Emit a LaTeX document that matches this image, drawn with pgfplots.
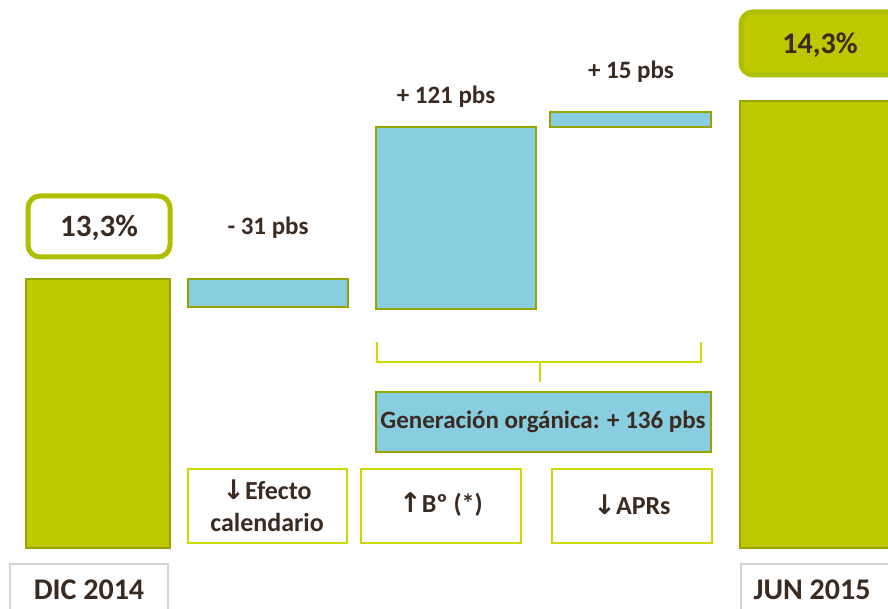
\documentclass[border=0pt]{standalone}
\usepackage{fontspec}
\setmainfont{Carlito}
\newfontfamily\symfont{DejaVu Sans}
\usepackage{pgfplots}
\pgfplotsset{compat=1.18}
\definecolor{grn}{RGB}{189,200,0}
\definecolor{grnd}{RGB}{152,164,0}
\definecolor{boxb}{RGB}{176,190,0}
\definecolor{blu}{RGB}{137,205,224}
\definecolor{brk}{RGB}{204,218,0}
\definecolor{gry}{RGB}{212,212,212}
\definecolor{txt}{RGB}{59,42,32}
\newcommand{\fs}[1]{\bfseries\fontsize{#1}{#1}\selectfont}
\newcommand{\arr}[1]{{\symfont\bfseries\fontsize{27}{27}\selectfont #1}}
\begin{document}
\begin{tikzpicture}
\begin{axis}[scale only axis, width=888pt, height=609pt,
  xmin=0, xmax=888, ymin=0, ymax=609, hide axis, clip=true]
% bars of the waterfall (plotted positions)
\addplot[fill=grn, draw=grnd, line width=2pt] coordinates {(26,61) (170,61) (170,330) (26,330)} -- cycle;
\addplot[fill=blu, draw=grnd, line width=2pt] coordinates {(188,302) (348,302) (348,330) (188,330)} -- cycle;
\addplot[fill=blu, draw=grnd, line width=2pt] coordinates {(376,300) (536,300) (536,482) (376,482)} -- cycle;
\addplot[fill=blu, draw=grnd, line width=2pt] coordinates {(550,482) (711,482) (711,497) (550,497)} -- cycle;
\addplot[fill=grn, draw=grnd, line width=2pt] coordinates {(740,61) (900,61) (900,508) (740,508)} -- cycle;
% value boxes
\addplot[fill=white, draw=boxb, line width=5pt, rounded corners=12pt] coordinates {(28,352) (170,352) (170,413) (28,413)} -- cycle;
\addplot[fill=grn, draw=boxb, line width=5pt, rounded corners=12pt] coordinates {(741,534) (960,534) (960,597) (741,597)} -- cycle;
% bracket
\addplot[draw=brk, line width=2.5pt] coordinates {(377,267) (377,247) (701,247) (701,267)};
\addplot[draw=brk, line width=2.5pt] coordinates {(540,247) (540,227)};
% organic generation box
\addplot[fill=blu, draw=grnd, line width=2pt] coordinates {(376,157) (711,157) (711,217) (376,217)} -- cycle;
% label boxes
\addplot[fill=white, draw=brk, line width=2pt] coordinates {(188,66) (347,66) (347,140) (188,140)} -- cycle;
\addplot[fill=white, draw=brk, line width=2pt] coordinates {(361,66) (521,66) (521,140) (361,140)} -- cycle;
\addplot[fill=white, draw=brk, line width=2pt] coordinates {(552,66) (712,66) (712,140) (552,140)} -- cycle;
% category boxes
\addplot[fill=white, draw=gry, line width=2pt] coordinates {(10,-20) (168,-20) (168,45) (10,45)} -- cycle;
\addplot[fill=white, draw=gry, line width=2pt] coordinates {(741,-20) (920,-20) (920,45) (741,45)} -- cycle;
% texts
\node[text=txt, font=\fs{31}] at (axis cs:99,381) {13,3\%};
\node[text=txt, font=\fs{30}] at (axis cs:820,564) {14,3\%};
\node[text=txt, font=\fs{25}] at (axis cs:268,381) {- 31 pbs};
\node[text=txt, font=\fs{25}] at (axis cs:446,512) {+ 121 pbs};
\node[text=txt, font=\fs{25}] at (axis cs:631,537) {+ 15 pbs};
\node[text=txt, font=\fs{25}] at (axis cs:543,187) {Generación orgánica: + 136 pbs};
\node[text=txt, font=\fs{26}, align=center] at (axis cs:267,103) {\arr{↓}Efecto\\[6pt]calendario};
\node[text=txt, font=\fs{26}] at (axis cs:441,104) {\arr{↑}Bº (*)};
\node[text=txt, font=\fs{26}] at (axis cs:632,104) {\arr{↓}APRs};
\node[text=txt, font=\fs{30}] at (axis cs:89,19) {DIC 2014};
\node[text=txt, font=\fs{30}] at (axis cs:812,19) {JUN 2015};
\end{axis}
\pgfresetboundingbox
\path (current axis.south west) rectangle (current axis.north east);
\end{tikzpicture}
\end{document}
